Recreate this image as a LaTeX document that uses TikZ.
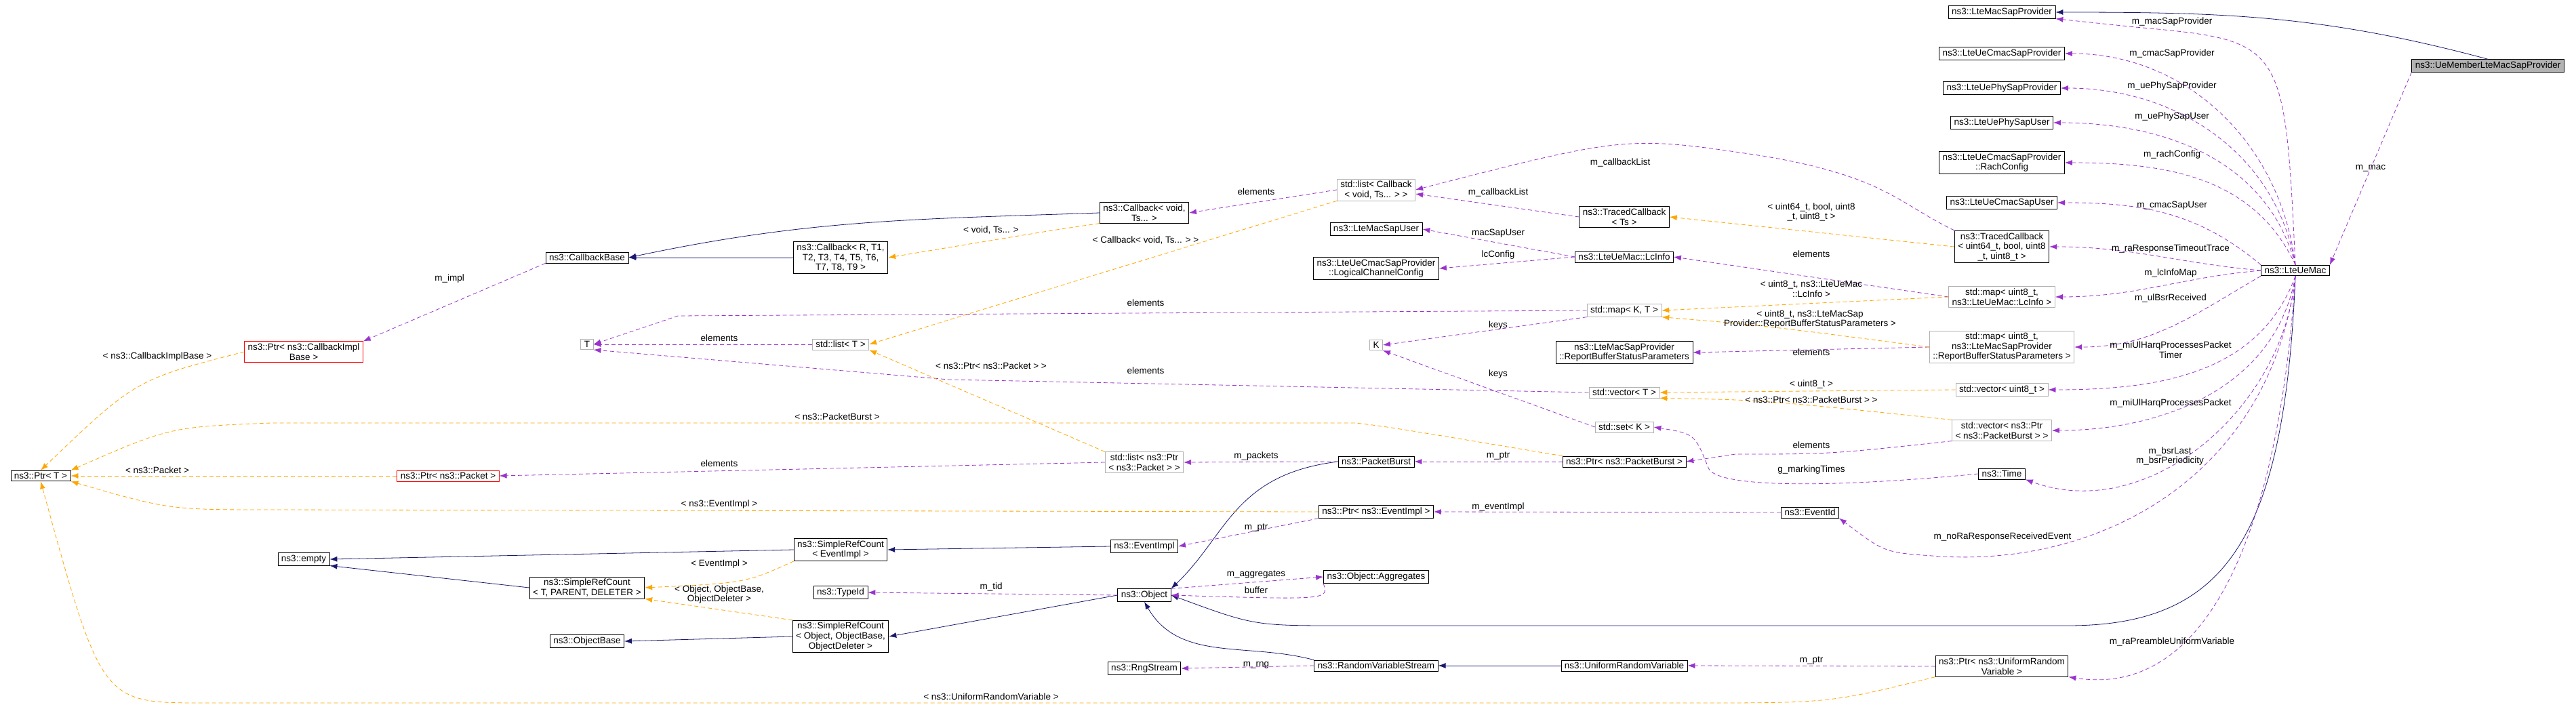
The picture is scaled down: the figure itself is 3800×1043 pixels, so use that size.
\documentclass[tikz,border=0pt]{standalone}
\usepackage{fontspec}
\setmainfont{Liberation Sans}
\usepackage{tikz}
\usetikzlibrary{arrows.meta}

\definecolor{inhcol}{RGB}{25,25,112}
\definecolor{usecol}{RGB}{154,50,205}
\definecolor{instcol}{RGB}{255,165,0}

\tikzset{
  cls/.style={draw=black,thick,fill=white,inner xsep=5pt,inner ysep=3pt,align=center,font=\fontsize{13.5}{14.5}\selectfont},
  tmpl/.style={cls,draw=black!30},
  redcls/.style={cls,draw=red},
  maincls/.style={cls,fill=black!30},
  lbl/.style={align=center,inner sep=1pt,font=\fontsize{13.5}{14.5}\selectfont},
  inh/.style={inhcol,thick,-{Latex[length=11pt,width=8pt]}},
  use/.style={usecol,thick,dashed,dash pattern=on 6pt off 4pt,-{Latex[length=11pt,width=8pt]}},
  inst/.style={instcol,thick,dashed,dash pattern=on 6pt off 4pt,-{Latex[length=11pt,width=8pt]}}
}

\begin{document}
\begin{tikzpicture}[x=1pt,y=-1pt]
	\useasboundingbox (0,0) rectangle (3800,1043);
	% right column
	\node[cls] (macSap) at (2953,18) {ns3::LteMacSapProvider};
	\node[maincls] (ueMem) at (3670,97) {ns3::UeMemberLteMacSapProvider};
	\node[cls] (cmacProv) at (2953,79) {ns3::LteUeCmacSapProvider};
	\node[cls] (phyProv) at (2953,130) {ns3::LteUePhySapProvider};
	\node[cls] (phyUser) at (2953,181) {ns3::LteUePhySapUser};
	\node[cls] (rach) at (2953,240) {ns3::LteUeCmacSapProvider\\::RachConfig};
	\node[cls] (cmacUser) at (2953,299) {ns3::LteUeCmacSapUser};
	\node[cls] (tcU64) at (2953,364) {ns3::TracedCallback\\< uint64\_t, bool, uint8\\\_t, uint8\_t >};
	\node[cls] (ueMac) at (3386,399) {ns3::LteUeMac};
	\node[tmpl] (mapLc) at (2953,438) {std::map< uint8\_t,\\ ns3::LteUeMac::LcInfo >};
	\node[tmpl] (mapRbs) at (2953,512) {std::map< uint8\_t,\\ ns3::LteMacSapProvider\\::ReportBufferStatusParameters >};
	\node[tmpl] (vecU8) at (2953,575) {std::vector< uint8\_t >};
	\node[tmpl] (vecPb) at (2953,635) {std::vector< ns3::Ptr\\< ns3::PacketBurst > >};
	\node[cls] (time) at (2953,699) {ns3::Time};
	\node[cls] (evId) at (2670,756) {ns3::EventId};
	\node[cls] (ptrUrv) at (2953,983) {ns3::Ptr< ns3::UniformRandom\\Variable >};
	% middle column
	\node[tmpl] (listCb) at (2030,280) {std::list< Callback\\< void, Ts... > >};
	\node[cls] (cbVoid) at (1688,314) {ns3::Callback< void,\\Ts... >};
	\node[cls] (tcTs) at (2396,320) {ns3::TracedCallback\\< Ts >};
	\node[cls] (macUser) at (2030,338) {ns3::LteMacSapUser};
	\node[cls] (lcInfo) at (2396,379) {ns3::LteUeMac::LcInfo};
	\node[cls] (lcCfg) at (2030,396) {ns3::LteUeCmacSapProvider\\::LogicalChannelConfig};
	\node[tmpl] (mapKT) at (2396,458) {std::map< K, T >};
	\node[tmpl] (K) at (2030,509) {K};
	\node[cls] (rbsPar) at (2396,520) {ns3::LteMacSapProvider\\::ReportBufferStatusParameters};
	\node[tmpl] (vecT) at (2396,579) {std::vector< T >};
	\node[tmpl] (setK) at (2396,630) {std::set< K >};
	\node[tmpl] (listPkt) at (1688,682) {std::list< ns3::Ptr\\< ns3::Packet > >};
	\node[cls] (pktBurst) at (2030,681) {ns3::PacketBurst};
	\node[cls] (ptrPb) at (2396,681) {ns3::Ptr< ns3::PacketBurst >};
	\node[cls] (ptrEi) at (2030,755) {ns3::Ptr< ns3::EventImpl >};
	\node[cls] (evImpl) at (1688,806) {ns3::EventImpl};
	\node[cls] (aggr) at (2030,851) {ns3::Object::Aggregates};
	\node[cls] (obj) at (1688,878) {ns3::Object};
	\node[cls] (rvs) at (2030,982) {ns3::RandomVariableStream};
	\node[cls] (rng) at (1688,986) {ns3::RngStream};
	\node[cls] (urv) at (2396,982) {ns3::UniformRandomVariable};
	% left columns
	\node[cls] (cbBase) at (866,380) {ns3::CallbackBase};
	\node[cls] (cbR) at (1240,380) {ns3::Callback< R, T1,\\T2, T3, T4, T5, T6,\\T7, T8, T9 >};
	\node[redcls] (ptrCib) at (448,519) {ns3::Ptr< ns3::CallbackImpl\\Base >};
	\node[tmpl] (T) at (866,508) {T};
	\node[tmpl] (listT) at (1240,508) {std::list< T >};
	\node[cls] (ptrT) at (60,702) {ns3::Ptr< T >};
	\node[redcls] (ptrPkt) at (661,702) {ns3::Ptr< ns3::Packet >};
	\node[cls] (empty) at (448,825) {ns3::empty};
	\node[cls] (srcEi) at (1240,811) {ns3::SimpleRefCount\\< EventImpl >};
	\node[cls] (srcT) at (866,867) {ns3::SimpleRefCount\\< T, PARENT, DELETER >};
	\node[cls] (typeId) at (1240,874) {ns3::TypeId};
	\node[cls] (objBase) at (866,946) {ns3::ObjectBase};
	\node[cls] (srcObj) at (1240,939) {ns3::SimpleRefCount\\< Object, ObjectBase,\\ObjectDeleter >};

	% inheritance
	\draw[inh] (ueMem.north) to[out=165,in=0] (macSap.east);
	\draw[inh] (cbVoid.west) to[out=182,in=12] (cbBase.east);
	\draw[inh] (cbR.west) -- (cbBase.east);
	\draw[inh] (srcEi.west) -- (empty.east);
	\draw[inh] (srcT.west) -- (empty.south east);
	\draw[inh] (evImpl.west) -- (srcEi.east);
	\draw[inh] (srcObj.west) -- (objBase.east);
	\draw[inh] (obj.west) -- (srcObj.east);
	\draw[inh] (pktBurst.west) .. controls (1820,700) and (1810,790) .. (obj.north east);
	\draw[inh] (ueMac.south) .. controls (3370,800) and (3280,923) .. (3050,923) -- (1980,923) .. controls (1850,923) .. (obj.east);
	\draw[inh] (rvs.north west) to[out=165,in=-60] (obj.south);
	\draw[inh] (urv.west) -- (rvs.east);

	% members of LteUeMac
	\draw[use] (ueMem.south west) -- (ueMac.north east);
	\draw[use] (ueMac.north) .. controls (3370,60) .. (3150,40) -- (macSap.south east);
	\draw[use] (ueMac.north) to[out=97,in=0] (cmacProv.east);
	\draw[use] (ueMac.north) to[out=100,in=0] (phyProv.east);
	\draw[use] (ueMac.north) to[out=105,in=0] (phyUser.east);
	\draw[use] (ueMac.north) to[out=115,in=0] (rach.east);
	\draw[use] (ueMac.north west) to[out=140,in=0] (cmacUser.east);
	\draw[use] (ueMac.west) to[out=175,in=0] (tcU64.east);
	\draw[use] (ueMac.west) to[out=185,in=0] (mapLc.east);
	\draw[use] (ueMac.south west) to[out=210,in=0] (mapRbs.east);
	\draw[use] (ueMac.south) to[out=250,in=0] (vecU8.east);
	\draw[use] (ueMac.south) to[out=260,in=0] (vecPb.east);
	\draw[use] (ueMac.south) to[out=265,in=-20] (time.south east);
	\draw[use] (ueMac.south) .. controls (3350,700) and (3100,840) .. (2850,820) .. controls (2780,815) .. (evId.south east);
	\draw[use] (ueMac.south) .. controls (3360,800) and (3250,1030) .. (ptrUrv.south east);

	% other members
	\draw[use] (tcU64.north west) .. controls (2800,300) and (2780,260) .. (2600,230) .. controls (2400,200) .. (listCb.east);
	\draw[use] (tcTs.west) -- ([yshift=-6pt]listCb.east);
	\draw[use] (listCb.west) -- (cbVoid.east);
	\draw[use] (lcInfo.west) -- (macUser.east);
	\draw[use] (lcInfo.west) -- (lcCfg.east);
	\draw[use] (mapLc.west) -- (lcInfo.east);
	\draw[use] (mapKT.west) -- (1000,466) -- (T.east);
	\draw[use] (mapKT.south west) -- (K.east);
	\draw[use] (mapRbs.west) -- (rbsPar.east);
	\draw[use] (listT.west) -- (T.east);
	\draw[use] (vecT.west) -- (1400,560) -- (T.south east);
	\draw[use] (setK.west) -- (K.south east);
	\draw[use] (vecPb.south west) .. controls (2700,670) .. (2560,670) -- (ptrPb.east);
	\draw[use] (time.west) .. controls (2700,720) and (2530,720) .. (2520,690) .. controls (2500,640) .. (setK.east);
	\draw[use] (listPkt.west) -- (ptrPkt.east);
	\draw[use] (pktBurst.west) -- (listPkt.east);
	\draw[use] (ptrPb.west) -- (pktBurst.east);
	\draw[use] (ptrEi.south west) -- (evImpl.east);
	\draw[use] (evId.west) -- (ptrEi.east);
	\draw[use] (obj.west) -- (typeId.east);
	\draw[use] (obj.north east) -- (aggr.west);
	\draw[use] (aggr.south west) .. controls (1960,885) .. (obj.east);
	\draw[use] (rvs.west) -- (rng.east);
	\draw[use] (ptrUrv.west) -- (urv.east);
	\draw[use] (cbBase.south west) -- (ptrCib.north east);

	% template instances
	\draw[inst] (ptrCib.west) .. controls (200,560) .. (ptrT.north);
	\draw[inst] (ptrPkt.west) -- (ptrT.east);
	\draw[inst] (ptrPb.north west) .. controls (2050,630) .. (2000,624) -- (400,624) .. controls (250,630) .. (ptrT.north east);
	\draw[inst] (ptrEi.west) -- (400,752) .. controls (250,752) .. (ptrT.south east);
	\draw[inst] (ptrUrv.south west) .. controls (2700,1037) .. (2500,1037) -- (300,1037) .. controls (150,1037) .. (ptrT.south);
	\draw[inst] (cbVoid.south west) .. controls (1550,340) .. (cbR.east);
	\draw[inst] (listCb.south west) -- (listT.east);
	\draw[inst] (listPkt.north west) -- (listT.south east);
	\draw[inst] (srcEi.south west) .. controls (1100,860) .. (srcT.east);
	\draw[inst] (srcObj.north west) -- (srcT.south east);
	\draw[inst] (tcU64.west) -- (tcTs.east);
	\draw[inst] (mapLc.west) -- (mapKT.east);
	\draw[inst] (mapRbs.west) .. controls (2600,480) .. (mapKT.south east);
	\draw[inst] (vecU8.west) -- (vecT.east);
	\draw[inst] (vecPb.north west) .. controls (2600,590) .. (vecT.south east);

	% labels
	\node[lbl] (lMacSap) at (3204,32) {m\_macSapProvider};
	\node[lbl] (lCmacProv) at (3204,79) {m\_cmacSapProvider};
	\node[lbl] (lPhyProv) at (3204,127) {m\_uePhySapProvider};
	\node[lbl] (lPhyUser) at (3204,172) {m\_uePhySapUser};
	\node[lbl] (lRach) at (3204,228) {m\_rachConfig};
	\node[lbl] (lCmacUser) at (3204,303) {m\_cmacSapUser};
	\node[lbl] (lRaResp) at (3202,367) {m\_raResponseTimeoutTrace};
	\node[lbl] (lLcMap) at (3202,403) {m\_lcInfoMap};
	\node[lbl] (lBsrRec) at (3202,440) {m\_ulBsrReceived};
	\node[lbl] (lHarqT) at (3202,516) {m\_miUlHarqProcessesPacket\\Timer};
	\node[lbl] (lHarq) at (3202,595) {m\_miUlHarqProcessesPacket};
	\node[lbl] (lBsr) at (3201,673) {m\_bsrLast\\m\_bsrPeriodicity};
	\node[lbl] (lNoRa) at (2954,792) {m\_noRaResponseReceivedEvent};
	\node[lbl] (lRaPre) at (3204,947) {m\_raPreambleUniformVariable};
	\node[lbl] (lMac) at (3497,248) {m\_mac};
	\node[lbl] (lTcU64) at (2672,313) {< uint64\_t, bool, uint8\\\_t, uint8\_t >};
	\node[lbl] (lElLc) at (2672,375) {elements};
	\node[lbl] (lMapLc) at (2672,426) {< uint8\_t, ns3::LteUeMac\\::LcInfo >};
	\node[lbl] (lMapRbs) at (2670,471) {< uint8\_t, ns3::LteMacSap\\Provider::ReportBufferStatusParameters >};
	\node[lbl] (lElRbs) at (2672,520) {elements};
	\node[lbl] (lVecU8) at (2672,567) {< uint8\_t >};
	\node[lbl] (lVecPb) at (2672,590) {< ns3::Ptr< ns3::PacketBurst > >};
	\node[lbl] (lElPb) at (2672,657) {elements};
	\node[lbl] (lMark) at (2672,693) {g\_markingTimes};
	\node[lbl] (lPtrUrv) at (2672,975) {m\_ptr};
	\node[lbl] (lCbList) at (2390,240) {m\_callbackList};
	\node[lbl] (lCbList2) at (2210,284) {m\_callbackList};
	\node[lbl] (lElCb) at (1853,283) {elements};
	\node[lbl] (lVoid) at (1462,339) {< void, Ts... >};
	\node[lbl] (lCbVoid) at (1690,354) {< Callback< void, Ts... > >};
	\node[lbl] (lMacUser) at (2210,344) {macSapUser};
	\node[lbl] (lLcCfg) at (2210,376) {lcConfig};
	\node[lbl] (lElKT) at (1690,447) {elements};
	\node[lbl] (lKeys) at (2210,480) {keys};
	\node[lbl] (lListPkt) at (1462,540) {< ns3::Ptr< ns3::Packet > >};
	\node[lbl] (lElVec) at (1690,547) {elements};
	\node[lbl] (lKeys2) at (2210,552) {keys};
	\node[lbl] (lPackets) at (1853,673) {m\_packets};
	\node[lbl] (lPtrPb) at (2210,673) {m\_ptr};
	\node[lbl] (lEvImpl) at (2210,748) {m\_eventImpl};
	\node[lbl] (lPtrEi) at (1853,779) {m\_ptr};
	\node[lbl] (lTid) at (1462,866) {m\_tid};
	\node[lbl] (lAggr) at (1853,848) {m\_aggregates};
	\node[lbl] (lBuf) at (1853,871) {buffer};
	\node[lbl] (lRng) at (1853,981) {m\_rng};
	\node[lbl] (lUrv) at (1462,1028) {< ns3::UniformRandomVariable >};
	\node[lbl] (lImpl) at (663,411) {m\_impl};
	\node[lbl] (lCib) at (232,526) {< ns3::CallbackImplBase >};
	\node[lbl] (lElT) at (1061,499) {elements};
	\node[lbl] (lPb) at (1235,615) {< ns3::PacketBurst >};
	\node[lbl] (lPkt) at (232,694) {< ns3::Packet >};
	\node[lbl] (lElPkt) at (1061,684) {elements};
	\node[lbl] (lEi) at (1061,744) {< ns3::EventImpl >};
	\node[lbl] (lSrcEi) at (1061,832) {< EventImpl >};
	\node[lbl] (lSrcObj) at (1061,877) {< Object, ObjectBase,\\ObjectDeleter >};
\end{tikzpicture}
\end{document}
